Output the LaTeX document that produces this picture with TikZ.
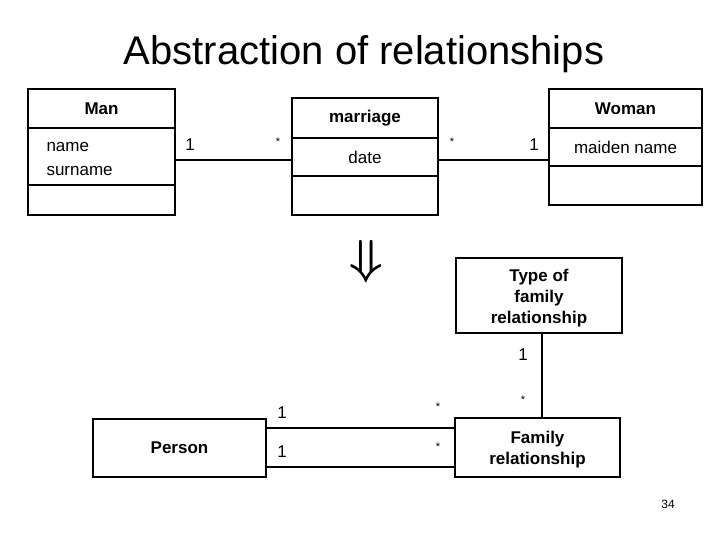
\documentclass[tikz,border=0pt]{standalone}
\usepackage{fontspec}
\setmainfont{Liberation Sans}
\usetikzlibrary{positioning}

\begin{document}
\begin{tikzpicture}[x=1pt,y=-1pt,font=\fontsize{17}{19}\selectfont]
\useasboundingbox (0,0) rectangle (720,540);
\tikzset{cls/.style={draw,line width=1.6pt,inner sep=0pt,outer sep=0pt,font=\fontsize{17}{21}\selectfont\bfseries}}
\tikzset{cmp/.style={draw,line width=1.6pt,inner sep=0pt,outer sep=0pt}}
\tikzset{assoc/.style={line width=1.6pt}}
\tikzset{mult/.style={font=\fontsize{17}{19}\selectfont}}
\tikzset{star/.style={font=\fontsize{11}{12}\selectfont}}
% title
\node[font=\fontsize{40}{44}\selectfont,anchor=base] (title) at (364,65) {Abstraction of relationships};
% Man
\node[cls,minimum width=147,minimum height=39] (manH) at (101.5,108.5) {Man};
\node[cmp,below=0pt of manH,minimum height=57,text width=110pt,inner xsep=18.5pt,align=left,font=\fontsize{17}{24}\selectfont] (manA) {\rule{0pt}{15pt}name\\surname};
\node[cmp,below=0pt of manA,minimum width=147,minimum height=30] (manO) {};
% marriage
\node[cls,minimum width=146,minimum height=40] (marH) at (365,118) {marriage};
\node[cmp,below=0pt of marH,minimum width=146,minimum height=38] (marA) {date};
\node[cmp,below=0pt of marA,minimum width=146,minimum height=39] (marO) {};
% Woman
\node[cls,minimum width=153,minimum height=39] (womH) at (625.5,108.5) {Woman};
\node[cmp,below=0pt of womH,minimum width=153,minimum height=38] (womA) {maiden name};
\node[cmp,below=0pt of womA,minimum width=153,minimum height=39] (womO) {};
% associations
\draw[assoc] ([yshift=-3.5pt]manA.east) -- ([yshift=-3.5pt]manA.east -| marA.west);
\draw[assoc] ([yshift=-3pt]marA.east) -- ([yshift=-3pt]marA.east -| womA.west);
\node[mult] (m1) at (190,145) {1};
\node[star] (m2) at (278,142) {*};
\node[star] (m3) at (452,142) {*};
\node[mult] (m4) at (534,145) {1};
% transformation
\node (arrow) at (366,262) {\scalebox{2.3}{\fontsize{20}{20}\selectfont\boldmath$\Downarrow$}};
% new model
\node[cls,minimum width=166,minimum height=75,align=center] (type) at (539,295.5) {\rule{0pt}{18pt}Type of\\family\\relationship};
\node[cls,minimum width=165,minimum height=59,align=center] (famrel) at (537.5,447.5) {\rule{0pt}{16pt}Family\\relationship};
\node[cls,minimum width=173,minimum height=58] (person) at (179.5,448) {Person};
\draw[assoc] ([xshift=3pt]type.south) -- ([xshift=3pt]type.south |- famrel.north);
\draw[assoc] ([yshift=-9pt]person.north east) -- ([yshift=-9pt]person.north east -| famrel.west);
\draw[assoc] ([yshift=10pt]person.south east) -- ([yshift=10pt]person.south east -| famrel.west);
\node[mult] (m5) at (523,355) {1};
\node[star] (m6) at (523,400) {*};
\node[mult] (m7) at (282,413) {1};
\node[star] (m8) at (438,407) {*};
\node[mult] (m9) at (282,452) {1};
\node[star] (m10) at (438,447) {*};
% slide number
\node[font=\fontsize{12}{14}\selectfont] (page) at (668,504) {34};
\end{tikzpicture}
\end{document}
